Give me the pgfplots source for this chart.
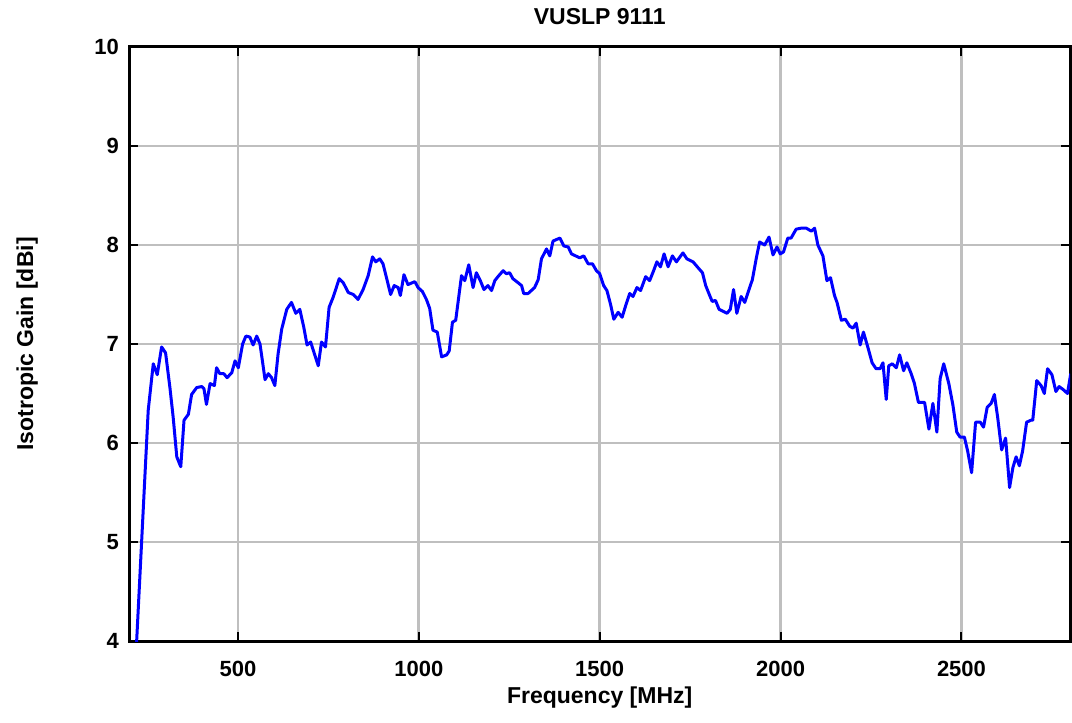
\documentclass[border=0pt]{standalone}
\usepackage{fontspec}
\setmainfont{Liberation Sans}
\usepackage{pgfplots}
\pgfplotsset{compat=1.18}
\begin{document}
\begin{tikzpicture}
\begin{axis}[
  name=ax,
  scale only axis,
  width=940.6pt, height=594pt,
  xmin=200, xmax=2800, ymin=4, ymax=10,
  xtick={500,1000,1500,2000,2500},
  ytick={4,5,6,7,8,9,10},
  grid=major,
  major grid style={color=black!25, line width=2.7pt},
  axis line style={line width=3pt, black},
  tick align=inside,
  major tick length=9pt,
  every tick/.style={black, line width=2pt},
  xtick pos=both, ytick pos=both,
  /pgf/number format/assume math mode=true,
  /pgf/number format/1000 sep={},
  tick label style={font=\fontsize{22}{26}\selectfont\bfseries},
  xticklabel style={yshift=-17pt},
  yticklabel style={xshift=-7pt},
  xlabel={Frequency [MHz]},
  ylabel={Isotropic Gain [dBi]},
  title={VUSLP 9111},
  label style={font=\fontsize{23}{27}\selectfont\bfseries},
  title style={font=\fontsize{23}{27}\selectfont\bfseries, at={(axis description cs:0.5,1)}, anchor=south, yshift=12.6pt},
  xlabel style={at={(axis description cs:0.5,0)}, anchor=north, yshift=-42pt},
  ylabel style={at={(axis description cs:0,0.5)}, anchor=south, rotate=0, xshift=0pt, yshift=88pt},
  clip=true,
]
\addplot[color=blue, line width=3pt, line join=round] coordinates {
(218,3.85) (252,6.33) (266,6.80) (277,6.69) (289,6.97) (300,6.91) (312,6.56) (321,6.26) (331,5.86) (342,5.76)
(351,6.23) (363,6.29) (372,6.49) (386,6.56) (400,6.57) (406,6.55) (413,6.39) (423,6.60) (435,6.58) (441,6.76)
(450,6.70) (461,6.70) (470,6.66) (483,6.71) (492,6.83) (501,6.76) (513,7.00) (522,7.08) (533,7.07) (542,6.99)
(552,7.08) (561,7.00) (575,6.64) (584,6.70) (593,6.66) (602,6.58) (611,6.90) (621,7.15) (635,7.35) (648,7.42)
(660,7.31) (671,7.35) (682,7.17) (691,6.99) (701,7.02) (722,6.78) (731,7.02) (742,6.97) (752,7.37) (763,7.47)
(780,7.66) (791,7.62) (805,7.52) (819,7.50) (832,7.45) (846,7.55) (860,7.69) (872,7.88) (881,7.83) (892,7.86)
(901,7.81) (912,7.65) (922,7.50) (932,7.59) (943,7.57) (949,7.49) (959,7.70) (970,7.60) (989,7.63) (998,7.57)
(1010,7.53) (1021,7.45) (1030,7.36) (1039,7.14) (1051,7.12) (1063,6.87) (1077,6.89) (1084,6.93) (1093,7.22) (1102,7.24)
(1118,7.69) (1127,7.64) (1138,7.80) (1150,7.57) (1159,7.72) (1170,7.64) (1180,7.55) (1191,7.59) (1201,7.54) (1210,7.64)
(1221,7.69) (1233,7.74) (1242,7.71) (1251,7.72) (1260,7.66) (1274,7.62) (1284,7.59) (1290,7.51) (1302,7.51) (1320,7.57)
(1330,7.65) (1339,7.86) (1353,7.96) (1362,7.89) (1371,8.04) (1390,8.07) (1401,7.99) (1413,7.98) (1422,7.91) (1445,7.87)
(1456,7.89) (1468,7.81) (1480,7.81) (1491,7.74) (1500,7.71) (1511,7.59) (1520,7.54) (1530,7.40) (1539,7.25) (1551,7.32)
(1562,7.27) (1572,7.39) (1583,7.51) (1592,7.48) (1603,7.57) (1613,7.54) (1627,7.68) (1638,7.64) (1649,7.74) (1658,7.83)
(1668,7.78) (1678,7.91) (1689,7.78) (1701,7.89) (1712,7.83) (1730,7.92) (1741,7.86) (1758,7.83) (1772,7.77) (1784,7.72)
(1793,7.59) (1804,7.49) (1811,7.43) (1820,7.44) (1830,7.35) (1841,7.33) (1852,7.31) (1861,7.35) (1870,7.55) (1879,7.31)
(1891,7.48) (1901,7.42) (1910,7.52) (1922,7.65) (1933,7.87) (1942,8.03) (1956,8.00) (1968,8.08) (1979,7.90) (1990,7.98)
(1999,7.91) (2008,7.93) (2020,8.07) (2029,8.07) (2043,8.16) (2057,8.17) (2071,8.17) (2085,8.14) (2094,8.17) (2103,8.00)
(2117,7.89) (2128,7.64) (2138,7.67) (2149,7.49) (2156,7.42) (2168,7.24) (2179,7.25) (2191,7.18) (2200,7.16) (2209,7.21)
(2220,6.99) (2229,7.12) (2241,6.97) (2253,6.81) (2264,6.75) (2275,6.75) (2283,6.81) (2292,6.44) (2299,6.78) (2309,6.80)
(2320,6.76) (2329,6.89) (2340,6.73) (2349,6.81) (2361,6.70) (2370,6.60) (2381,6.41) (2398,6.41) (2410,6.14) (2421,6.40)
(2432,6.11) (2441,6.65) (2451,6.80) (2465,6.60) (2476,6.39) (2487,6.11) (2496,6.06) (2508,6.06) (2517,5.92) (2528,5.70)
(2539,6.21) (2552,6.21) (2561,6.16) (2571,6.36) (2582,6.40) (2591,6.49) (2600,6.26) (2611,5.93) (2622,6.05) (2633,5.55)
(2642,5.75) (2651,5.86) (2660,5.77) (2669,5.92) (2680,6.21) (2692,6.23) (2697,6.23) (2708,6.63) (2720,6.58) (2729,6.50)
(2738,6.75) (2750,6.69) (2761,6.52) (2770,6.57) (2781,6.54) (2793,6.50) (2802,6.70)
};
\end{axis}
\pgfresetboundingbox
\path[use as bounding box] ([xshift=-129.4pt,yshift=-81pt]ax.south west) rectangle ([xshift=2pt,yshift=47pt]ax.north east);
\end{tikzpicture}
\end{document}
